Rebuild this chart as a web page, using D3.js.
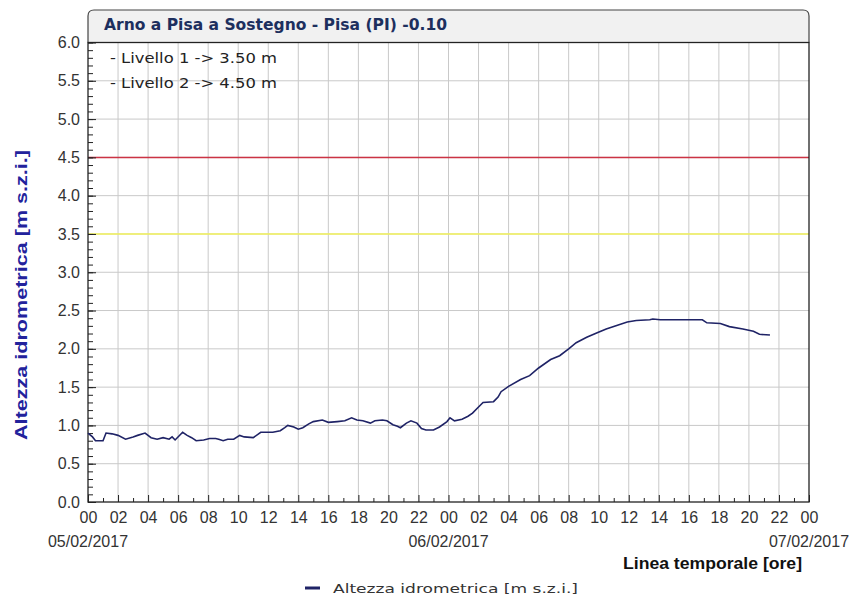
<!DOCTYPE html>
<html>
<head>
<meta charset="utf-8">
<script src="https://cdn.jsdelivr.net/npm/d3@7"></script>
<style>
  body { margin: 0; background: #fff; }
  svg { display: block; }
</style>
</head>
<body>
<div id="main"></div>
<script>
// hours since 05/02/2017 00:00 and water level (m)
const hours = [0, 0.3, 0.5, 1.0, 1.2, 1.6, 2.0, 2.5, 3.0, 3.3, 3.8, 4.2, 4.6, 5.0, 5.4, 5.6, 5.8,
  6.3, 6.6, 6.9, 7.2, 7.7, 8.1, 8.5, 8.7, 9.0, 9.3, 9.7, 10.1, 10.4, 11.0, 11.5, 12.3, 12.8,
  13.1, 13.3, 13.7, 14.0, 14.3, 14.7, 15.0, 15.6, 16.0, 16.6, 17.1, 17.55, 17.9, 18.3, 18.8,
  19.1, 19.6, 19.9, 20.3, 20.6, 20.8, 21.2, 21.5, 21.9, 22.2, 22.5, 23.0, 23.4, 23.9, 24.1,
  24.4, 24.9, 25.3, 25.6, 26.0, 26.3, 27.0, 27.3, 27.5, 28.0, 28.8, 29.4, 30.0, 30.8, 31.4,
  32.0, 32.5, 33.2, 33.9, 34.5, 35.3, 35.9, 36.5, 37.4, 37.6, 38.1, 40.9, 41.2, 42.1, 42.7,
  43.6, 44.3, 44.7, 45.4];
const levels = [0.90, 0.85, 0.80, 0.80, 0.90, 0.89, 0.87, 0.82, 0.85, 0.87, 0.90, 0.84, 0.82, 0.84, 0.82, 0.85, 0.81,
  0.91, 0.87, 0.84, 0.80, 0.81, 0.83, 0.83, 0.82, 0.80, 0.82, 0.82, 0.87, 0.85, 0.84, 0.91, 0.91, 0.93,
  0.97, 1.00, 0.98, 0.95, 0.97, 1.02, 1.05, 1.07, 1.04, 1.05, 1.06, 1.10, 1.07, 1.06, 1.03,
  1.06, 1.07, 1.06, 1.01, 0.99, 0.97, 1.03, 1.06, 1.03, 0.96, 0.94, 0.94, 0.98, 1.05, 1.10,
  1.06, 1.08, 1.12, 1.16, 1.24, 1.30, 1.31, 1.37, 1.44, 1.51, 1.60, 1.65, 1.75, 1.86, 1.91,
  2.00, 2.08, 2.15, 2.21, 2.26, 2.31, 2.35, 2.37, 2.38, 2.39, 2.38, 2.38, 2.34, 2.33, 2.29,
  2.26, 2.23, 2.19, 2.18];

const thresholdValues = [3.5, 4.5];
const thresholdColors = ["#f2f25a", "#cc3344"];
const thresholdLabels = ["- Livello 1 -> 3.50 m", "- Livello 2 -> 4.50 m"];

const dateHours = [0, 24, 48];
const dateLabels = ["05/02/2017", "06/02/2017", "07/02/2017"];

const titleText = "Arno a Pisa a Sostegno - Pisa (PI) -0.10";
const yTitle = "Altezza idrometrica [m s.z.i.]";
const xTitle = "Linea temporale [ore]";

const W = 857, H = 601;
const margin = {left: 88, right: 48, top: 42.5, bottom: 99};
const width = W - margin.left - margin.right;
const height = H - margin.top - margin.bottom;
const tickFont = "'Liberation Sans', Arial, sans-serif";

const svg = d3.select("#main").append("svg")
  .attr("width", W).attr("height", H);

const x = d3.scaleLinear().domain([0, 48]).range([margin.left, margin.left + width]);
const y = d3.scaleLinear().domain([0, 6]).range([margin.top + height, margin.top]);

// title box with rounded top corners
const tTop = 10, tBot = margin.top, r = 6;
const x0 = margin.left, x1 = margin.left + width;
svg.append("path")
  .attr("d", `M${x0},${tBot} L${x0},${tTop + r} Q${x0},${tTop} ${x0 + r},${tTop} L${x1 - r},${tTop} Q${x1},${tTop} ${x1},${tTop + r} L${x1},${tBot}`)
  .attr("fill", "#f1f1f1").attr("stroke", "#444").attr("stroke-width", 1.2);

svg.append("text")
  .attr("x", 104).attr("y", 30)
  .attr("font-family", "'DejaVu Sans Condensed', 'DejaVu Sans', sans-serif")
  .attr("font-weight", "bold").attr("font-size", 15)
  .attr("fill", "#1d2f5e")
  .attr("textLength", 343).attr("lengthAdjust", "spacingAndGlyphs")
  .text(titleText);

// grid
const grid = svg.append("g").attr("stroke", "#c9c9c9").attr("stroke-width", 1);
grid.selectAll("line.v").data(d3.range(2, 48, 2)).enter().append("line")
  .attr("x1", d => x(d)).attr("x2", d => x(d))
  .attr("y1", y(0)).attr("y2", y(6));
grid.selectAll("line.h").data(d3.range(0.5, 6, 0.5)).enter().append("line")
  .attr("x1", x(0)).attr("x2", x(48))
  .attr("y1", d => y(d)).attr("y2", d => y(d));

// threshold lines
svg.selectAll("line.thr").data(thresholdValues).enter().append("line")
  .attr("x1", x(0)).attr("x2", x(48))
  .attr("y1", d => y(d)).attr("y2", d => y(d))
  .attr("stroke", (d, i) => thresholdColors[i]).attr("stroke-width", 1.5);

// frame
svg.append("rect")
  .attr("x", x(0)).attr("y", y(6))
  .attr("width", width).attr("height", height)
  .attr("fill", "none").attr("stroke", "#222").attr("stroke-width", 1.3);

// y axis
const yAxis = d3.axisLeft(y)
  .tickValues(d3.range(0, 6.01, 0.5))
  .tickFormat(d3.format(".1f"))
  .tickSizeInner(-8).tickSizeOuter(0).tickPadding(8);
const gy = svg.append("g").attr("transform", `translate(${x(0)},0)`).call(yAxis);
gy.select(".domain").remove();
gy.selectAll("text").attr("font-family", tickFont)
  .attr("font-size", 16).attr("fill", "#333");
gy.selectAll("line").attr("stroke", "#222");

const yMinor = d3.axisLeft(y).tickValues(d3.range(0, 6.01, 0.1)).tickFormat("")
  .tickSizeInner(-5).tickSizeOuter(0);
const gym = svg.append("g").attr("transform", `translate(${x(0)},0)`).call(yMinor);
gym.select(".domain").remove();
gym.selectAll("line").attr("stroke", "#222");

// x axis
const xAxis = d3.axisBottom(x)
  .tickValues(d3.range(0, 49, 2))
  .tickFormat(d => String(d % 24).padStart(2, "0"))
  .tickSizeInner(-7).tickSizeOuter(0).tickPadding(10);
const gx = svg.append("g").attr("transform", `translate(0,${y(0)})`).call(xAxis);
gx.select(".domain").remove();
gx.selectAll("text").attr("font-family", tickFont)
  .attr("font-size", 16).attr("fill", "#333");
gx.selectAll("line").attr("stroke", "#222");

const xMinor = d3.axisBottom(x).tickValues(d3.range(1, 48, 2)).tickFormat("")
  .tickSizeInner(-4).tickSizeOuter(0);
const gxm = svg.append("g").attr("transform", `translate(0,${y(0)})`).call(xMinor);
gxm.select(".domain").remove();
gxm.selectAll("line").attr("stroke", "#222");

svg.selectAll("text.date").data(dateLabels).enter().append("text")
  .attr("class", "date")
  .attr("x", (d, i) => x(dateHours[i])).attr("y", 547)
  .attr("text-anchor", "middle")
  .attr("font-family", tickFont).attr("font-size", 16)
  .attr("fill", "#333")
  .text(d => d);

// data line
const line = d3.line().x((d, i) => x(hours[i])).y(d => y(d));
svg.append("path")
  .datum(levels)
  .attr("d", line)
  .attr("fill", "none").attr("stroke", "#1f2366").attr("stroke-width", 1.6);

// threshold legend (top-left)
svg.selectAll("text.thr").data(thresholdLabels).enter().append("text")
  .attr("x", 110).attr("y", (d, i) => 63 + i * 25)
  .attr("font-family", "'DejaVu Sans', sans-serif").attr("font-size", 14)
  .attr("fill", "#222")
  .attr("textLength", 167).attr("lengthAdjust", "spacingAndGlyphs")
  .text(d => d);

// axis titles
svg.append("text")
  .attr("transform", "translate(27,295) rotate(-90)")
  .attr("text-anchor", "middle")
  .attr("font-family", "'Liberation Sans', Arial, sans-serif")
  .attr("font-weight", "bold").attr("font-size", 16)
  .attr("fill", "#22229c")
  .attr("textLength", 290).attr("lengthAdjust", "spacingAndGlyphs")
  .text(yTitle);

svg.append("text")
  .attr("x", 802).attr("y", 569)
  .attr("text-anchor", "end")
  .attr("font-family", "'Liberation Sans', Arial, sans-serif")
  .attr("font-weight", "bold").attr("font-size", 16)
  .attr("fill", "#111")
  .attr("textLength", 179).attr("lengthAdjust", "spacingAndGlyphs")
  .text(xTitle);

// bottom legend
svg.append("line")
  .attr("x1", 305).attr("x2", 320).attr("y1", 588).attr("y2", 588)
  .attr("stroke", "#1f2366").attr("stroke-width", 3);
svg.append("text")
  .attr("x", 333).attr("y", 593)
  .attr("font-family", "'DejaVu Sans', sans-serif").attr("font-size", 13)
  .attr("fill", "#333")
  .attr("textLength", 245).attr("lengthAdjust", "spacingAndGlyphs")
  .text(yTitle);
</script>
</body>
</html>
